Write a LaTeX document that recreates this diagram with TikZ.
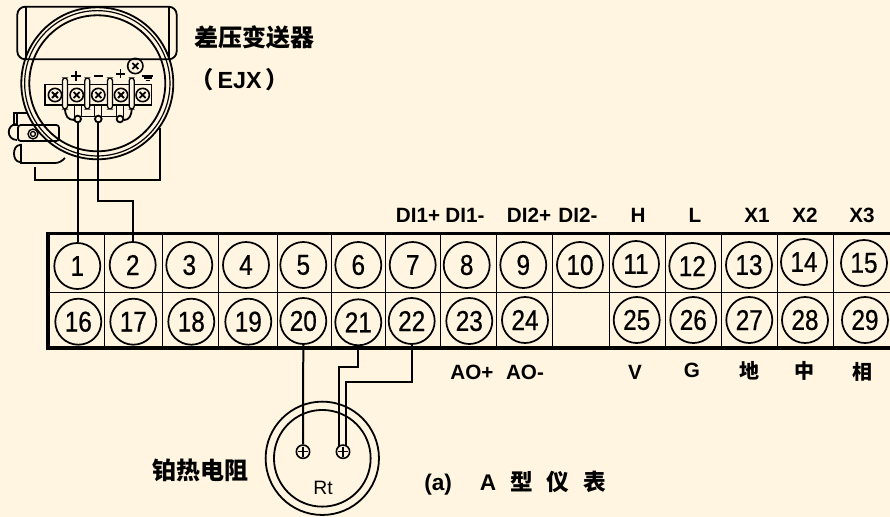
\documentclass[tikz,border=0pt]{standalone}
\usepackage{fontspec}
\usepackage{tikz}
\usetikzlibrary{positioning,arrows.meta}
\setmainfont{Liberation Sans}
\newfontfamily\cjk{Noto Sans CJK SC}
\newfontfamily\numfont[FakeStretch=0.85,FakeBold=0.6]{Liberation Sans}
\definecolor{paper}{RGB}{255,245,224}
\tikzset{
  wire/.style={line width=1.5pt},
  part/.style={line width=1.35pt},
  thinpart/.style={line width=1pt},
  term/.style={circle,draw,line width=1.3pt,minimum size=34.5pt,inner sep=0pt,font=\numfont\fontsize{21.5}{22}\selectfont},
  lab/.style={font=\bfseries\fontsize{15.5}{16}\selectfont,inner sep=0pt},
  cjklab/.style={font=\cjk\bfseries\fontsize{18}{19}\selectfont,inner sep=0pt},
  cjksmall/.style={font=\cjk\bfseries\fontsize{15}{16}\selectfont,inner sep=0pt},
  screw/.style={circle,draw,line width=1.2pt,minimum size=10pt,inner sep=0pt},
  post/.style={circle,draw,line width=1.2pt,minimum size=10pt,inner sep=0pt}
}
\begin{document}
\begin{tikzpicture}[x=0.75pt,y=-0.75pt]
\useasboundingbox (0,0) rectangle (890,517);
\fill[paper] (0,0) rectangle (890,517);

% Terminal strip
\draw[line width=2.6pt] (890,233.5) -- (48,233.5) -- (48,348) -- (890,348);
\draw[line width=1.1pt] (48,292.5) -- (890,292.5);
\foreach \x in {104.5,162.5,218.5,277.5,331.5,385.5,440.5,496.5,552.5,609.5,665.5,721.5,777.5,833.5}
  \draw[line width=1.1pt] (\x,233.5) -- (\x,348);

% Top row
\foreach \n/\x/\y in {1/77.3/266,2/132.7/265,3/189.3/265,4/246/265,5/303.3/265,6/358.3/265,7/412.7/265,
  8/466.7/265,9/523.3/265,10/580/265,11/636/264,12/692.3/266,13/749/265,14/804/262,15/864/263}
  \node[term] (t\n) at (\x,\y) {\n};
% Bottom row
\foreach \n/\x/\y in {16/78.3/321.7,17/133.3/321.7,18/191.3/321.7,19/248.3/321.7,20/303.3/321,21/358.3/322.3,22/411.7/321,
  23/469.3/321,24/525/320,25/636.7/320,26/693.3/320,27/749.3/320,28/805/320,29/865/320}
  \node[term] (t\n) at (\x,\y) {\n};

% Labels above and below
\foreach \x/\t in {418/DI1+,465/DI1-,529/DI2+,578/DI2-,638/H,695/L,757/X1,805/X2,862/X3}
  \node[lab] (up\t) at (\x,215) {\t};
\foreach \x/\y/\t in {472/372/AO+,525/372/AO-,635/372/V,692/370/G}
  \node[lab] (lo\t) at (\x,\y) {\t};
\node[cjksmall] (ldi) at (749,371) {地};
\node[cjksmall] (lzh) at (804,371) {中};
\node[cjksmall] (lxi) at (862,372) {相};

% Transmitter housing
\draw[part,rounded corners=6pt] (17.3,6.7) rectangle (176.7,59.3);
\draw[part] (26,6.7) -- (26,59.3) (169,6.7) -- (169,59.3);
\node[circle,draw,part,minimum size=114pt,inner sep=0pt] (bodya) at (97.3,83.3) {};
\node[circle,draw,line width=.9pt,minimum size=109pt,inner sep=0pt] (bodyb) at (97.3,83.3) {};
\node[circle,draw,part,minimum size=102pt,inner sep=0pt] (bodyc) at (97.3,83.3) {};
\draw[part] (160,128) -- (160,180) -- (35,180) -- (35,167);

% Cable glands on the left
\draw[part] (14,113) rectangle (17,125);
\draw[part] (14,113) -- (27,113);
\draw[part,rounded corners=2pt] (18,125) -- (59,125) -- (59,141) -- (18,141) -- cycle;
\draw[part] (17,124) .. controls (6,124) and (6,140) .. (17,140);
\draw[part] (21,144) -- (21,163) -- (55,163) .. controls (59,163) and (62,161) .. (65,158);
\draw[part] (20,145) .. controls (12,145) and (12,162) .. (20,162);
\draw[thinpart] (33,134) circle (5) (33,134) circle (2.5);

% Terminal block
\draw[part] (45,84.5) rectangle (151.5,105);
\foreach \n/\x in {1/55,2/76.7,3/98.3,4/121,5/142.7} {
  \node[screw] (s\n) at (\x,95) {};
  \draw[part] (\x-3,92) -- (\x+3,98) (\x-3,98) -- (\x+3,92);
}
\foreach \x in {65,87.3,110,131.7}
  \draw[thinpart,fill=paper,rounded corners=2pt] (\x-2.5,78) rectangle (\x+2.5,109);

% Lugs
\draw[part] (65,108) .. controls (65,116) and (68,120) .. (74,120);
\draw[part] (131.7,108) .. controls (131.7,116) and (129,120) .. (124,120);
\draw[thinpart] (81,116.7) -- (94.5,116.7) (102,116.7) -- (116.5,116.7);
\foreach \n/\x in {a/77.7,b/98.3,c/120} {
  \draw[thinpart] (\x-3.5,105) -- (\x-3.5,117) (\x+3.5,105) -- (\x+3.5,117);
  \node[circle,draw,part,fill=paper,minimum size=5pt,inner sep=0pt] (lug\n) at (\x,119) {};
}

% Polarity marks
\node[screw,minimum size=11.5pt] (gnd) at (135.3,66) {};
\draw[part] (132.3,63) -- (138.3,69) (132.3,69) -- (138.3,63);
\draw[part] (71,76) -- (81,76) (76,71) -- (76,81);
\draw[part] (94,76) -- (103,76);
\draw[part] (116,74) -- (125,74) (120.5,69.5) -- (120.5,78.5);
\draw[part] (141.7,75.7) -- (153,75.7);
\draw[thinpart] (143.5,78) -- (151.5,78) (145.5,80.5) -- (149.5,80.5);

% Transmitter wiring
\coordinate (kneeb) at (98.3,201);
\draw[wire] (luga) -- (luga |- t1.north);
\draw[wire] (lugb) -- (kneeb) -| (t2.north);

\node[cjklab] (title) at (254.5,37) {差压变送器};
\node[lab,anchor=west,font=\bfseries\fontsize{17.5}{18}\selectfont] (ejx) at (190,80) {{\cjk（}\hspace{3pt}EJX\hspace{3pt}{\cjk ）}};

% Platinum resistor
\node[circle,draw,part,minimum size=85pt,inner sep=0pt] (rta) at (322.3,458.3) {};
\node[circle,draw,part,minimum size=72.5pt,inner sep=0pt] (rtb) at (322.3,458.3) {};
\node[post] (pa) at (303,451.7) {};
\node[post] (pb) at (343,451.7) {};
\draw[line width=.8pt] (298,451.7) -- (308,451.7) (303,446.7) -- (303,456.7);
\draw[line width=.8pt] (338,451.7) -- (348,451.7) (343,446.7) -- (343,456.7);
\node[font=\fontsize{14.5}{15}\selectfont,inner sep=0pt] (rt) at (323,488) {Rt};
\coordinate (kneea) at (339.3,366.7);
\coordinate (kneec) at (346.3,381.7);
\coordinate (enda) at (339.3,446);
\coordinate (endc) at (346.3,446);
\draw[wire] (t20.south) -- (pa.north);
\draw[wire] (t21.south) |- (kneea) -- (enda);
\draw[wire] (t22.south) |- (kneec) -- (endc);

\node[cjklab] (ptname) at (200.5,470) {铂热电阻};
\node[lab,anchor=west,font=\bfseries\fontsize{17}{18}\selectfont] (typea) at (424,483) {(a)\hspace{21pt}A\hspace{10.5pt}{\cjk 型}\hspace{10.5pt}{\cjk 仪}\hspace{10.5pt}{\cjk 表}};
\end{tikzpicture}
\end{document}
